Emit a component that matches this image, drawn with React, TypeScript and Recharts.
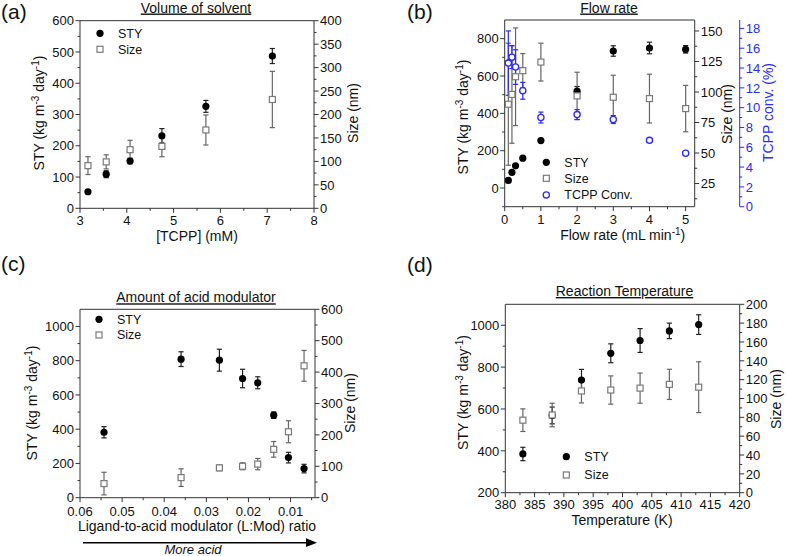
import React from 'react';
import { ComposedChart, Scatter, XAxis, YAxis, ErrorBar, ReferenceLine } from 'recharts';

const FONT = '"Liberation Sans", Arial, Helvetica, sans-serif';
const W = 786;
const H = 556;
const INK = '#111111';
const AXIS = '#333333';
const GRAY = '#7a7a7a';
const BLUE = '#2a2aff';

// ---------- Panel (a): Volume of solvent ----------
const aTcpp = [3.17, 3.56, 4.07, 4.75, 5.69, 7.11];
const aSty = [53, 109, 151, 232, 326, 487];
const aStyErr = [5, 11, 9, 23, 19, 24];
const aSize = [91, 99, 125, 132, 167, 232];
const aSizeErr = [19, 15, 20, 22, 32, 60];
const aXMajor = [3, 4, 5, 6, 7, 8];
const aXMinor = [3.5, 4.5, 5.5, 6.5, 7.5];
const aStyMajor = [0, 100, 200, 300, 400, 500, 600];
const aStyMinor = [50, 150, 250, 350, 450, 550];
const aSizeMajor = [0, 50, 100, 150, 200, 250, 300, 350, 400];
const aSizeMinor = [25, 75, 125, 175, 225, 275, 325, 375];

// ---------- Panel (b): Flow rate ----------
const bFlow = [0.1, 0.2, 0.3, 0.5, 1, 2, 3, 4, 5];
const bSty = [41, 84, 119, 160, 254, 519, 734, 750, 743];
const bStyErr = [0, 0, 0, 0, 0, 25, 28, 31, 20];
const bSize = [90, 98, 112.5, 117.5, 124.5, 96.8, 95.7, 94.6, 86.4];
const bSizeErr = [50, 40, 40, 14, 15.5, 19.4, 18, 20, 19];
const bConv = [14.5, 15.1, 14.1, 11.7, 9.0, 9.3, 8.8, 6.7, 5.4];
const bConvErr = [3.25, 1.15, 1.75, 0.85, 0.55, 0.5, 0.4, 0.2, 0.15];
const bXMajor = [0, 1, 2, 3, 4, 5];
const bXMinor = [0.5, 1.5, 2.5, 3.5, 4.5];
const bStyMajor = [0, 200, 400, 600, 800];
const bStyMinor = [-100, 100, 300, 500, 700];
const bSizeMajor = [25, 50, 75, 100, 125, 150];
const bSizeMinor = [12.5, 37.5, 62.5, 87.5, 112.5, 137.5];
const bConvMajor = [0, 2, 4, 6, 8, 10, 12, 14, 16, 18];
const bConvMinor = [1, 3, 5, 7, 9, 11, 13, 15, 17];

// ---------- Panel (c): Amount of acid modulator ----------
const cRatio = [0.0543, 0.036, 0.0269, 0.0214, 0.0178, 0.014, 0.0105, 0.0068];
const cSty = [382, 809, 803, 696, 671, 482, 234, 170];
const cStyErr = [33, 43, 64, 54, 35, 19, 31, 25];
const cSize = [45, 64, 95, 100, 107, 154, 210, 420];
const cSizeErr = [36, 28, 9, 11, 18, 25, 35, 49];
const cXMajor = [0.06, 0.05, 0.04, 0.03, 0.02, 0.01];
const cXMinor = [0.055, 0.045, 0.035, 0.025, 0.015, 0.005];
const cStyMajor = [0, 200, 400, 600, 800, 1000];
const cStyMinor = [100, 300, 500, 700, 900];
const cSizeMajor = [0, 100, 200, 300, 400, 500, 600];
const cSizeMinor = [50, 150, 250, 350, 450, 550];

// ---------- Panel (d): Reaction Temperature ----------
const dTemp = [383, 388, 393, 398, 403, 408, 413];
const dSty = [385, 569, 738, 866, 927, 973, 1003];
const dStyErr = [32, 40, 51, 45, 57, 37, 47];
const dSize = [77, 82.5, 108, 109, 111, 115, 112];
const dSizeErr = [12, 12.5, 12.7, 15, 16, 16, 27];
const dXMajor = [380, 385, 390, 395, 400, 405, 410, 415, 420];
const dXMinor = [382.5, 387.5, 392.5, 397.5, 402.5, 407.5, 412.5, 417.5];
const dStyMajor = [200, 400, 600, 800, 1000];
const dStyMinor = [300, 500, 700, 900];
const dSizeMajor = [0, 20, 40, 60, 80, 100, 120, 140, 160, 180, 200];
const dSizeMinor = [10, 30, 50, 70, 90, 110, 130, 150, 170, 190];

type Pt = { x: number; y: number; e: number };
const pts = (xs: number[], ys: number[], es: number[]): Pt[] =>
  xs.map((x, i) => ({ x, y: ys[i], e: es[i] }));

const isIn = (arr: number[], v: number) => arr.some((m) => Math.abs(m - v) < 1e-9);
const fmtInt = (v: number) => String(v);
const fmt2 = (v: number) => v.toFixed(2);

type Side = 'left' | 'right' | 'bottom';

function makeTick(side: Side, pos: number, major: number[], fmt: (v: number) => string, color: string, labelOffset = 16) {
  return (props: any) => {
    const { x, y, payload } = props;
    const v = payload.value;
    const maj = isIn(major, v);
    const L = maj ? 4.5 : 2.5;
    if (side === 'bottom') {
      return (
        <g>
          <line x1={x} x2={x} y1={pos} y2={pos + L} stroke={color} strokeWidth={1} />
          {maj && (
            <text x={x} y={pos + labelOffset} textAnchor="middle" fontFamily={FONT} fontSize={13} fill={color === AXIS ? INK : color}>
              {fmt(v)}
            </text>
          )}
        </g>
      );
    }
    const dir = side === 'left' ? -1 : 1;
    return (
      <g>
        <line x1={pos} x2={pos + dir * L} y1={y} y2={y} stroke={color} strokeWidth={1} />
        {maj && (
          <text
            x={pos + dir * 6}
            y={y}
            dy="0.36em"
            textAnchor={side === 'left' ? 'end' : 'start'}
            fontFamily={FONT}
            fontSize={13}
            fill={color === AXIS ? INK : color}
          >
            {fmt(v)}
          </text>
        )}
      </g>
    );
  };
}

type Rect = { x: number; y: number; w: number; h: number };
type XSpec = { domain: [number, number]; reversed?: boolean; major: number[]; minor: number[]; fmt: (v: number) => string; labelOffset: number };
type YSpec = { id: string; side: 'left' | 'right'; width: number; pos: number; domain: [number, number]; major: number[]; minor: number[]; fmt: (v: number) => string; color: string };
type SSpec = { data: Pt[]; yAxisId: string; kind: 'dot' | 'square' | 'ring'; errColor: string };

const dotShape = (p: any) => <circle cx={p.cx} cy={p.cy} r={3.6} fill="#000" />;
const squareShape = (p: any) => (
  <rect x={p.cx - 3} y={p.cy - 3} width={6} height={6} fill="#fff" stroke={GRAY} strokeWidth={1.2} />
);
const ringShape = (p: any) => <circle cx={p.cx} cy={p.cy} r={3.1} fill="#fff" stroke={BLUE} strokeWidth={1.3} />;

function Panel({ rect, xs, ys, series }: { rect: Rect; xs: XSpec; ys: YSpec[]; series: SSpec[] }) {
  const lw = ys.filter((a) => a.side === 'left').reduce((s, a) => s + a.width, 0);
  const rw = ys.filter((a) => a.side === 'right').reduce((s, a) => s + a.width, 0);
  const margin = {
    left: rect.x - lw,
    right: W - rect.x - rect.w - rw,
    top: rect.y,
    bottom: H - rect.y - rect.h - 30,
  };
  const bottomY = rect.y + rect.h;
  return (
    <div style={{ position: 'absolute', left: 0, top: 0, width: W, height: H }}>
      <ComposedChart width={W} height={H} margin={margin}>
        <XAxis
          dataKey="x"
          type="number"
          domain={xs.domain}
          reversed={xs.reversed}
          allowDataOverflow
          ticks={[...xs.major, ...xs.minor]}
          interval={0}
          tickLine={false}
          axisLine={{ stroke: AXIS, strokeWidth: 1 }}
          tick={makeTick('bottom', bottomY, xs.major, xs.fmt, AXIS, xs.labelOffset)}
          height={30}
        />
        {ys.map((a) => (
          <YAxis
            key={a.id}
            yAxisId={a.id}
            orientation={a.side}
            width={a.width}
            type="number"
            domain={a.domain}
            allowDataOverflow
            ticks={[...a.major, ...a.minor]}
            interval={0}
            tickLine={false}
            axisLine={{ stroke: a.color, strokeWidth: 1 }}
            tick={makeTick(a.side, a.pos, a.major, a.fmt, a.color)}
          />
        ))}
        <ReferenceLine yAxisId={ys[0].id} y={ys[0].domain[1]} stroke={AXIS} strokeWidth={1} />
        {series.map((s, i) => (
          <Scatter
            key={i}
            data={s.data}
            dataKey="y"
            yAxisId={s.yAxisId}
            isAnimationActive={false}
            shape={s.kind === 'dot' ? dotShape : s.kind === 'square' ? squareShape : ringShape}
          >
            <ErrorBar dataKey="e" direction="y" width={2.6} stroke={s.errColor} strokeWidth={1.2} isAnimationActive={false} />
          </Scatter>
        ))}
      </ComposedChart>
    </div>
  );
}

const rA: Rect = { x: 80, y: 20.7, w: 234, h: 187.6 };
const rB: Rect = { x: 504.7, y: 20, w: 190, h: 186.7 };
const rC: Rect = { x: 80, y: 309.3, w: 235, h: 188.4 };
const rD: Rect = { x: 505.3, y: 304.3, w: 234.4, h: 188.4 };

const STYLabel = ({ x, y, color = INK }: { x: number; y: number; color?: string }) => (
  <text x={x} y={y} transform={`rotate(-90 ${x} ${y})`} textAnchor="middle" fontFamily={FONT} fontSize={14} fill={color}>
    STY (kg m<tspan dy={-5} fontSize={10}>-3</tspan>
    <tspan dy={5}> day</tspan>
    <tspan dy={-5} fontSize={10}>-1</tspan>
    <tspan dy={5}>)</tspan>
  </text>
);

const VLabel = ({ x, y, text, color = INK }: { x: number; y: number; text: string; color?: string }) => (
  <text x={x} y={y} transform={`rotate(-90 ${x} ${y})`} textAnchor="middle" fontFamily={FONT} fontSize={14} fill={color}>
    {text}
  </text>
);

const HText = ({ x, y, text, size = 14, underline = false, italic = false, anchor = 'middle' }: any) => (
  <text
    x={x}
    y={y}
    textAnchor={anchor}
    fontFamily={FONT}
    fontSize={size}
    fill={INK}
    fontStyle={italic ? 'italic' : 'normal'}
    textDecoration={underline ? 'underline' : undefined}
  >
    {text}
  </text>
);

const LegendItem = ({ x, y, kind, label }: { x: number; y: number; kind: 'dot' | 'square' | 'ring'; label: string }) => (
  <g>
    {kind === 'dot' && <circle cx={x} cy={y} r={3.6} fill="#000" />}
    {kind === 'square' && <rect x={x - 3} y={y - 3} width={6} height={6} fill="#fff" stroke={GRAY} strokeWidth={1.2} />}
    {kind === 'ring' && <circle cx={x} cy={y} r={3.1} fill="#fff" stroke={BLUE} strokeWidth={1.3} />}
    <text x={x + 18} y={y + 4.4} fontFamily={FONT} fontSize={12.5} fill={INK}>
      {label}
    </text>
  </g>
);

export default function App() {
  return (
    <div style={{ position: 'absolute', left: 0, top: 0, width: W, height: H, background: '#fff', overflow: 'hidden' }}>
      <Panel
        rect={rA}
        xs={{ domain: [3, 8], major: aXMajor, minor: aXMinor, fmt: fmtInt, labelOffset: 16.4 }}
        ys={[
          { id: 'l', side: 'left', width: 45, pos: rA.x, domain: [0, 600], major: aStyMajor, minor: aStyMinor, fmt: fmtInt, color: AXIS },
          { id: 'r', side: 'right', width: 45, pos: rA.x + rA.w, domain: [0, 400], major: aSizeMajor, minor: aSizeMinor, fmt: fmtInt, color: AXIS },
        ]}
        series={[
          { data: pts(aTcpp, aSty, aStyErr), yAxisId: 'l', kind: 'dot', errColor: '#222' },
          { data: pts(aTcpp, aSize, aSizeErr), yAxisId: 'r', kind: 'square', errColor: '#666' },
        ]}
      />
      <Panel
        rect={rB}
        xs={{ domain: [0, 5.25], major: bXMajor, minor: bXMinor, fmt: fmtInt, labelOffset: 17.5 }}
        ys={[
          { id: 'l', side: 'left', width: 45, pos: rB.x, domain: [-100, 900], major: bStyMajor, minor: bStyMinor, fmt: fmtInt, color: AXIS },
          { id: 'r', side: 'right', width: 45, pos: rB.x + rB.w, domain: [6, 159], major: bSizeMajor, minor: bSizeMinor, fmt: fmtInt, color: AXIS },
          { id: 'r2', side: 'right', width: 40, pos: rB.x + rB.w + 45, domain: [0, 18.85], major: bConvMajor, minor: bConvMinor, fmt: fmtInt, color: BLUE },
        ]}
        series={[
          { data: pts(bFlow, bSty, bStyErr), yAxisId: 'l', kind: 'dot', errColor: '#222' },
          { data: pts(bFlow, bSize, bSizeErr), yAxisId: 'r', kind: 'square', errColor: '#666' },
          { data: pts(bFlow, bConv, bConvErr), yAxisId: 'r2', kind: 'ring', errColor: BLUE },
        ]}
      />
      <Panel
        rect={rC}
        xs={{ domain: [0.0042, 0.06], reversed: true, major: cXMajor, minor: cXMinor, fmt: fmt2, labelOffset: 18 }}
        ys={[
          { id: 'l', side: 'left', width: 45, pos: rC.x, domain: [0, 1100], major: cStyMajor, minor: cStyMinor, fmt: fmtInt, color: AXIS },
          { id: 'r', side: 'right', width: 45, pos: rC.x + rC.w, domain: [0, 600], major: cSizeMajor, minor: cSizeMinor, fmt: fmtInt, color: AXIS },
        ]}
        series={[
          { data: pts(cRatio, cSty, cStyErr), yAxisId: 'l', kind: 'dot', errColor: '#222' },
          { data: pts(cRatio, cSize, cSizeErr), yAxisId: 'r', kind: 'square', errColor: '#666' },
        ]}
      />
      <Panel
        rect={rD}
        xs={{ domain: [380, 420], major: dXMajor, minor: dXMinor, fmt: fmtInt, labelOffset: 16.5 }}
        ys={[
          { id: 'l', side: 'left', width: 45, pos: rD.x, domain: [200, 1100], major: dStyMajor, minor: dStyMinor, fmt: fmtInt, color: AXIS },
          { id: 'r', side: 'right', width: 45, pos: rD.x + rD.w, domain: [0, 200], major: dSizeMajor, minor: dSizeMinor, fmt: fmtInt, color: AXIS },
        ]}
        series={[
          { data: pts(dTemp, dSty, dStyErr), yAxisId: 'l', kind: 'dot', errColor: '#222' },
          { data: pts(dTemp, dSize, dSizeErr), yAxisId: 'r', kind: 'square', errColor: '#666' },
        ]}
      />
      <svg width={W} height={H} style={{ position: 'absolute', left: 0, top: 0, pointerEvents: 'none' }}>
        {/* panel letters */}
        <HText x={1} y={19} text="(a)" size={21} anchor="start" />
        <HText x={407} y={19} text="(b)" size={21} anchor="start" />
        <HText x={1} y={271} text="(c)" size={21} anchor="start" />
        <HText x={407} y={272} text="(d)" size={21} anchor="start" />
        {/* titles */}
        <HText x={196} y={12.5} text="Volume of solvent" underline />
        <HText x={609} y={12.5} text="Flow rate" underline />
        <HText x={196} y={302.3} text="Amount of acid modulator" underline />
        <HText x={624.5} y={296} text="Reaction Temperature" underline />
        {/* x titles */}
        <HText x={197} y={240.7} text="[TCPP] (mM)" />
        <text x={622.7} y={240} textAnchor="middle" fontFamily={FONT} fontSize={14} fill={INK}>
          Flow rate (mL min<tspan dy={-5} fontSize={10}>-1</tspan>
          <tspan dy={5}>)</tspan>
        </text>
        <HText x={197} y={530.7} text="Ligand-to-acid modulator (L:Mod) ratio" />
        <HText x={622} y={525} text="Temperature (K)" />
        {/* y titles */}
        <STYLabel x={43.5} y={113} />
        <VLabel x={357.5} y={113} text="Size (nm)" />
        <STYLabel x={468.2} y={117} />
        <VLabel x={731.5} y={114} text="Size (nm)" />
        <VLabel x={773.2} y={112.5} text="TCPP conv. (%)" color={BLUE} />
        <STYLabel x={37} y={403} />
        <VLabel x={355.2} y={403} text="Size (nm)" />
        <STYLabel x={468.2} y={392.5} />
        <VLabel x={781.2} y={399} text="Size (nm)" />
        {/* legends */}
        <LegendItem x={100} y={33.3} kind="dot" label="STY" />
        <LegendItem x={100} y={49.3} kind="square" label="Size" />
        <LegendItem x={546.3} y={162.3} kind="dot" label="STY" />
        <LegendItem x={546.3} y={178.3} kind="square" label="Size" />
        <LegendItem x={546.3} y={195} kind="ring" label="TCPP Conv." />
        <LegendItem x={99} y={319.3} kind="dot" label="STY" />
        <LegendItem x={99} y={335} kind="square" label="Size" />
        <LegendItem x={566.3} y={456.7} kind="dot" label="STY" />
        <LegendItem x={566.3} y={475} kind="square" label="Size" />
        {/* arrow */}
        <line x1={83} y1={542.7} x2={307} y2={542.7} stroke="#000" strokeWidth={1.6} />
        <polygon points="306,538.3 317,542.7 306,547.1" fill="#000" />
        <HText x={193} y={553.5} text="More acid" size={13} italic />
      </svg>
    </div>
  );
}
